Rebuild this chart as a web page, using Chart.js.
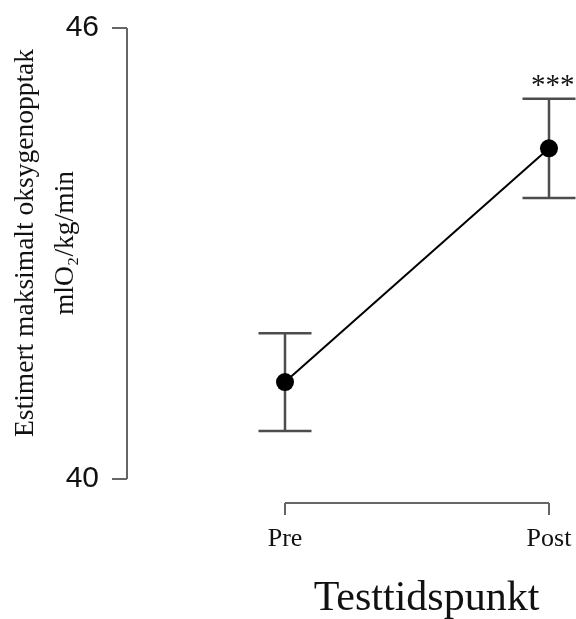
<!DOCTYPE html>
<html>
<head>
<meta charset="utf-8">
<script src="https://cdn.jsdelivr.net/npm/chart.js@4"></script>
<style>
  html, body { margin: 0; padding: 0; background: #fff; overflow: hidden; }
  #wrap { width: 726px; height: 640px; position: relative; }
</style>
</head>
<body>
<div id="wrap"><canvas id="vo2-chart"></canvas></div>
<script>
const timepoints = ['Pre', 'Post'];
const means = [41.29, 44.40];
const errors = [0.65, 0.66];
const yTicks = [40, 46];
const yTitle = ['Estimert maksimalt oksygenopptak', 'mlO\u2082/kg/min'];
const xTitle = 'Testtidspunkt';
const signif = ['', '***'];

const axisGrey = '#666666';
const serif = '"Liberation Serif", "Times New Roman", serif';

const points = means.map((m, i) => ({ x: i, y: m }));

// error bars, R style axis lines, y title, significance stars
const extras = {
    id: 'extras',
    beforeDatasetsDraw(chart) {
        const ctx = chart.ctx;
        const xs = chart.scales.x;
        const ys = chart.scales.y;
        ctx.save();
        ctx.strokeStyle = '#4d4d4d';
        ctx.lineWidth = 2.5;
        means.forEach((m, i) => {
            const px = xs.getPixelForValue(i);
            const top = ys.getPixelForValue(m + errors[i]);
            const bot = ys.getPixelForValue(m - errors[i]);
            ctx.beginPath();
            ctx.moveTo(px, top); ctx.lineTo(px, bot);
            ctx.moveTo(px - 26.5, top); ctx.lineTo(px + 26.5, top);
            ctx.moveTo(px - 26.5, bot); ctx.lineTo(px + 26.5, bot);
            ctx.stroke();
        });
        ctx.restore();
    },
    afterDraw(chart) {
        const ctx = chart.ctx;
        const xs = chart.scales.x;
        const ys = chart.scales.y;
        const area = chart.chartArea;
        ctx.save();
        // axis lines only between first and last tick
        ctx.strokeStyle = axisGrey;
        ctx.lineWidth = 2;
        ctx.beginPath();
        ctx.moveTo(area.left, ys.getPixelForValue(yTicks[0]));
        ctx.lineTo(area.left, ys.getPixelForValue(yTicks[yTicks.length - 1]));
        ctx.moveTo(xs.getPixelForValue(0), area.bottom);
        ctx.lineTo(xs.getPixelForValue(timepoints.length - 1), area.bottom);
        ctx.stroke();

        // y title, two lines rotated
        ctx.fillStyle = '#111';
        ctx.font = '27.5px ' + serif;
        ctx.textAlign = 'center';
        ctx.textBaseline = 'alphabetic';
        const cy = 243;
        [33, 73].forEach((bx, i) => {
            ctx.save();
            ctx.translate(bx, cy);
            ctx.rotate(-Math.PI / 2);
            ctx.fillText(yTitle[i], 0, 0);
            ctx.restore();
        });

        // significance marks above the upper error bar
        ctx.font = '29px ' + serif;
        ctx.textAlign = 'left';
        signif.forEach((s, i) => {
            if (!s) return;
            const px = xs.getPixelForValue(i);
            const py = ys.getPixelForValue(means[i] + errors[i]);
            ctx.fillText(s, px - 18, py - 5);
        });
        ctx.restore();
    }
};

const ctx1 = document.getElementById('vo2-chart');

const vo2Chart = new Chart(ctx1, {
    type: 'line',
    data: {
        datasets: [{
            data: points,
            borderColor: '#000',
            backgroundColor: '#000',
            borderWidth: 2,
            pointRadius: 9,
            pointBackgroundColor: '#000',
            pointBorderWidth: 0,
            lineTension: 0,
            fill: false
        }]
    },
    options: {
        responsive: true,
        maintainAspectRatio: false,
        animation: false,
        events: [],
        layout: { autoPadding: false, padding: { top: 28, left: 0, right: 0, bottom: 0 } },
        plugins: { legend: { display: false }, tooltip: { enabled: false } },
        scales: {
            x: {
                type: 'linear',
                min: -0.5985,
                max: 1.6705,
                afterBuildTicks: s => { s.ticks = timepoints.map((t, i) => ({ value: i })); },
                afterFit: s => { s.height = 137; s.paddingLeft = 0; s.paddingRight = 0; },
                border: { display: false },
                grid: { drawOnChartArea: false, drawTicks: true, tickLength: 12, color: axisGrey, lineWidth: 2 },
                ticks: {
                    callback: v => timepoints[v],
                    color: '#111',
                    font: { family: serif, size: 26 },
                    padding: 9,
                    maxRotation: 0
                },
                title: {
                    display: true,
                    text: xTitle,
                    color: '#111',
                    font: { family: serif, size: 42, lineHeight: 1.2 },
                    padding: { top: 0, bottom: 16 }
                }
            },
            y: {
                min: 39.681,
                max: 46,
                afterBuildTicks: s => { s.ticks = yTicks.map(v => ({ value: v })); },
                afterFit: s => { s.width = 127; s.paddingTop = 0; s.paddingBottom = 0; },
                border: { display: false },
                grid: { drawOnChartArea: false, drawTicks: true, tickLength: 15, color: axisGrey, lineWidth: 2 },
                ticks: {
                    color: '#111',
                    font: { family: '"Liberation Sans", Arial, sans-serif', size: 30, lineHeight: 0.8 },
                    padding: 13
                }
            }
        }
    },
    plugins: [extras]
});
</script>
</body>
</html>
